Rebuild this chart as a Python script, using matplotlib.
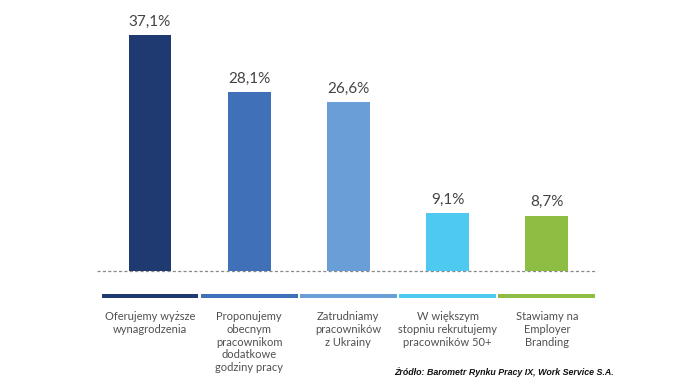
import matplotlib
matplotlib.use("Agg")
from matplotlib import pyplot as plt

categories = [
    "Oferujemy wyższe\nwynagrodzenia",
    "Proponujemy\nobecnym\npracownikom\ndodatkowe\ngodziny pracy",
    "Zatrudniamy\npracowników\nz Ukrainy",
    "W większym\nstopniu rekrutujemy\npracowników 50+",
    "Stawiamy na\nEmployer\nBranding",
]
values = [37.1, 28.1, 26.6, 9.1, 8.7]
value_labels = ["37,1%", "28,1%", "26,6%", "9,1%", "8,7%"]
colors = ["#1f3a70", "#4070b8", "#6a9ed6", "#4ec9f0", "#8dbd42"]
source = "Źródło: Barometr Rynku Pracy IX, Work Service S.A."

plt.rcParams['font.family'] = ['Lato', 'DejaVu Sans']

fig = plt.figure(figsize=(6.8, 3.85), dpi=100)
# px per unit on x ~ 99.2, y ~ 6.36
ax = fig.add_axes([97 / 680, (385 - 271) / 385, 500 / 680, 251 / 385])
xs = list(range(len(values)))
ax.set_xlim(-0.534, -0.534 + 500 / 99.2)
ax.set_ylim(0, 251 / 6.36)
ax.axis('off')

ax.bar(xs, values, width=0.43, color=colors, zorder=2)
ax.axhline(0, color="#8a8a8a", linewidth=0.9, linestyle=(0, (2.5, 1.8)), zorder=1,
           clip_on=False)

for x, v, lab in zip(xs, values, value_labels):
    ax.text(x, v + 1.0, lab, ha='center', va='bottom', fontsize=11, color="#444444")

# colored strips under the baseline
for x, c in zip(xs, colors):
    ax.bar(x, -0.65, bottom=-3.6, width=0.975, color=c, clip_on=False)

for x, lab in zip(xs, categories):
    ax.text(x, -6.3, lab, ha='center', va='top', fontsize=8, color="#505050",
            linespacing=1.2, clip_on=False)

fig.text(614 / 680, 1 - 372 / 385, source, ha='right', va='center', fontsize=6.4,
         fontweight='bold', fontstyle='italic', family='Liberation Sans', color="#111111")

fig.savefig("out.png", dpi=100)
